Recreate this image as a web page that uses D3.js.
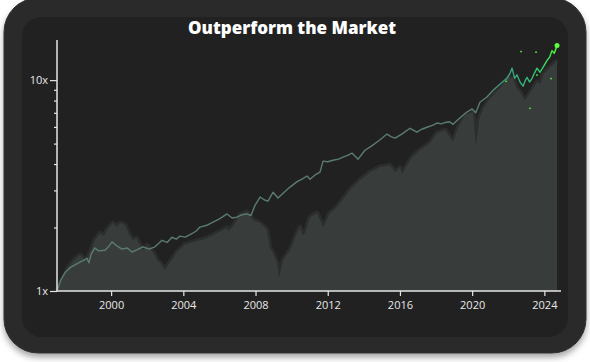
<!DOCTYPE html>
<html>
<head>
<meta charset="utf-8">
<script src="https://cdn.jsdelivr.net/npm/d3@7"></script>
<style>
  body { margin: 0; background: #fff; }
  svg { display: block; }
</style>
</head>
<body>
<svg id="chart" width="590" height="362"></svg>
<script>
// growth of 1x, dates as decimal years
const portfolioYears = [1997.0, 1997.2, 1997.44, 1997.6, 1997.72, 1998.0, 1998.27, 1998.5, 1998.66, 1998.77, 1998.9, 1999.1, 1999.3, 1999.66, 1999.85, 2000.05, 2000.3, 2000.6, 2000.9, 2001.15, 2001.45, 2001.76, 2002.1, 2002.43, 2002.82, 2003.1, 2003.37, 2003.6, 2003.81, 2004.1, 2004.37, 2004.7, 2004.92, 2005.3, 2005.64, 2006.0, 2006.42, 2006.7, 2006.97, 2007.25, 2007.53, 2007.75, 2007.97, 2008.25, 2008.5, 2008.69, 2008.97, 2009.24, 2009.6, 2009.91, 2010.3, 2010.6, 2010.85, 2011.02, 2011.3, 2011.57, 2011.74, 2012.0, 2012.29, 2012.6, 2012.84, 2013.1, 2013.34, 2013.68, 2014.06, 2014.4, 2014.73, 2015.0, 2015.28, 2015.5, 2015.73, 2016.1, 2016.56, 2016.94, 2017.2, 2017.5, 2017.8, 2018.05, 2018.3, 2018.5, 2018.75, 2018.94, 2019.3, 2019.71, 2020.0, 2020.2, 2020.43, 2020.8, 2021.16, 2021.5, 2021.93, 2022.1, 2022.21, 2022.35, 2022.48, 2022.65, 2022.82, 2022.95, 2023.04, 2023.18, 2023.32, 2023.45, 2023.59, 2023.76, 2023.95, 2024.15, 2024.3, 2024.42, 2024.55, 2024.7];
const portfolioValues = [1.0, 1.12, 1.22, 1.26, 1.29, 1.33, 1.37, 1.40, 1.43, 1.36, 1.50, 1.60, 1.55, 1.56, 1.62, 1.71, 1.64, 1.58, 1.60, 1.53, 1.57, 1.62, 1.58, 1.62, 1.74, 1.70, 1.80, 1.76, 1.82, 1.80, 1.85, 1.92, 2.01, 2.05, 2.12, 2.20, 2.32, 2.22, 2.24, 2.30, 2.32, 2.28, 2.55, 2.79, 2.70, 2.67, 2.94, 2.76, 2.95, 3.11, 3.30, 3.40, 3.51, 3.39, 3.55, 3.66, 4.13, 4.10, 4.17, 4.22, 4.31, 4.40, 4.51, 4.22, 4.65, 4.85, 5.09, 5.30, 5.55, 5.40, 5.31, 5.55, 5.91, 5.67, 5.85, 5.98, 6.10, 6.26, 6.20, 6.30, 6.35, 6.17, 6.60, 7.06, 7.30, 7.00, 7.85, 8.30, 8.95, 9.50, 10.2, 10.8, 11.4, 10.2, 10.6, 9.8, 9.36, 10.0, 10.3, 9.8, 10.2, 10.8, 11.4, 10.9, 11.6, 12.4, 12.9, 13.8, 13.4, 14.6];

const marketYears = [1997.0, 1997.2, 1997.44, 1997.6, 1997.83, 1998.27, 1998.6, 1998.72, 1998.9, 1999.1, 1999.38, 1999.6, 1999.77, 2000.1, 2000.3, 2000.49, 2000.77, 2001.0, 2001.21, 2001.4, 2001.6, 2001.75, 2001.99, 2002.32, 2002.55, 2002.71, 2002.98, 2003.26, 2003.65, 2004.09, 2004.37, 2004.92, 2005.3, 2005.64, 2006.42, 2006.5, 2006.8, 2007.14, 2007.53, 2007.86, 2008.25, 2008.63, 2008.8, 2008.97, 2009.19, 2009.3, 2009.52, 2009.91, 2010.3, 2010.46, 2010.6, 2010.74, 2011.02, 2011.4, 2011.6, 2011.74, 2012.12, 2012.4, 2012.68, 2013.23, 2013.79, 2014.34, 2014.9, 2015.45, 2015.73, 2016.0, 2016.12, 2016.67, 2017.11, 2017.66, 2018.05, 2018.22, 2018.5, 2018.94, 2019.2, 2019.6, 2020.05, 2020.21, 2020.4, 2020.6, 2020.99, 2021.54, 2021.99, 2022.26, 2022.45, 2022.65, 2022.93, 2023.2, 2023.59, 2023.8, 2023.93, 2024.31, 2024.55, 2024.7];
const marketValues = [1.0, 1.10, 1.19, 1.28, 1.37, 1.48, 1.40, 1.45, 1.56, 1.74, 1.88, 1.82, 1.95, 2.10, 2.02, 2.10, 2.06, 1.85, 1.74, 1.78, 1.65, 1.55, 1.65, 1.53, 1.40, 1.36, 1.26, 1.37, 1.53, 1.66, 1.69, 1.74, 1.78, 1.84, 1.99, 1.92, 2.05, 2.29, 2.37, 2.17, 2.10, 1.95, 1.60, 1.51, 1.36, 1.16, 1.40, 1.56, 1.88, 2.01, 1.85, 1.88, 2.24, 2.34, 2.15, 2.01, 2.34, 2.45, 2.61, 3.01, 3.36, 3.66, 3.87, 3.95, 3.66, 3.85, 3.60, 4.31, 4.65, 5.03, 5.60, 5.67, 5.79, 5.10, 5.90, 6.83, 7.06, 4.90, 6.60, 7.30, 8.20, 9.17, 10.3, 10.2, 9.2, 8.77, 8.03, 8.68, 9.78, 9.6, 10.6, 11.5, 12.0, 12.4];

// little sparkles near the end of the run
const sparkleYears = [2021.88, 2022.71, 2023.2, 2023.54, 2023.59, 2024.37];
const sparkleValues = [9.89, 13.7, 7.37, 13.6, 10.6, 10.2];

const yTicks = [1, 2, 3, 4, 5, 6, 7, 8, 9, 10];
const yLabels = { 1: "1x", 10: "10x" };
const titleText = "Outperform the Market";

const svg = d3.select("#chart");
const W = 590, H = 362;
const margin = { top: 40, right: 29, bottom: 71, left: 57 };

const toDate = function (yr) {
  const y = Math.floor(yr);
  const start = new Date(y, 0, 1), end = new Date(y + 1, 0, 1);
  return new Date(+start + (yr - y) * (end - start));
};

const defs = svg.append("defs");
const shadow = defs.append("filter").attr("id", "shadow")
  .attr("x", "-10%").attr("y", "-10%").attr("width", "120%").attr("height", "130%");
shadow.append("feDropShadow").attr("dx", 0).attr("dy", 4).attr("stdDeviation", 3)
  .attr("flood-color", "#000").attr("flood-opacity", 0.35);

// card
svg.append("rect").attr("x", 4).attr("y", -2).attr("width", 582).attr("height", 355)
  .attr("rx", 34).attr("fill", "#2a2a2a").attr("stroke", "#333").attr("filter", "url(#shadow)");
svg.append("rect").attr("x", 22).attr("y", 17).attr("width", 546).attr("height", 320)
  .attr("rx", 20).attr("fill", "#212121");

svg.append("text")
  .attr("x", 292).attr("y", 34)
  .attr("text-anchor", "middle")
  .attr("font-family", "'Open Sans', sans-serif")
  .attr("font-weight", 800)
  .attr("font-size", "17px")
  .attr("fill", "#fff")
  .text(titleText);

const x = d3.scaleTime()
  .domain([toDate(1997.0), toDate(2024.92)])
  .range([margin.left, W - margin.right]);
const y = d3.scaleLog()
  .domain([1, 15.5])
  .range([H - margin.bottom, margin.top]);

const market = marketYears.map((d, i) => ({ date: toDate(d), value: marketValues[i] }));
const portfolio = portfolioYears.map((d, i) => ({ date: toDate(d), value: portfolioValues[i] }));

const area = d3.area()
  .x(d => x(d.date))
  .y0(y(1))
  .y1(d => y(d.value));

// soft darker fringe along the top of the market area
svg.append("path")
  .datum(market)
  .attr("fill", "none")
  .attr("stroke", "#2b2e2c")
  .attr("stroke-width", 5)
  .attr("stroke-linejoin", "round")
  .attr("d", d3.line().x(d => x(d.date)).y(d => y(d.value)));

svg.append("path")
  .datum(market)
  .attr("fill", "#383c3a")
  .attr("d", area);

const grad = defs.append("linearGradient").attr("id", "lineGrad")
  .attr("gradientUnits", "userSpaceOnUse")
  .attr("x1", x(toDate(2020.8))).attr("x2", x(toDate(2024.7)))
  .attr("y1", 0).attr("y2", 0);
grad.append("stop").attr("offset", 0).attr("stop-color", "#5a7b71");
grad.append("stop").attr("offset", 0.3).attr("stop-color", "#3d9e7e");
grad.append("stop").attr("offset", 0.7).attr("stop-color", "#2fbf78");
grad.append("stop").attr("offset", 1).attr("stop-color", "#4dff3a");

const line = d3.line()
  .x(d => x(d.date))
  .y(d => y(d.value));

svg.append("path")
  .datum(portfolio)
  .attr("fill", "none")
  .attr("stroke", "url(#lineGrad)")
  .attr("stroke-width", 1.4)
  .attr("stroke-linejoin", "round")
  .attr("d", line);

svg.selectAll(".sparkle")
  .data(sparkleYears)
  .enter().append("rect")
  .attr("class", "sparkle")
  .attr("x", d => x(toDate(d)) - 1)
  .attr("y", (d, i) => y(sparkleValues[i]) - 0.5)
  .attr("width", 2).attr("height", 1.5)
  .attr("fill", "#4cd23a");

const last = portfolio[portfolio.length - 1];
svg.append("circle")
  .attr("cx", x(last.date)).attr("cy", y(last.value))
  .attr("r", 2.5).attr("fill", "#5cff3c");

// axes
const xAxis = svg.append("g")
  .attr("transform", "translate(0," + y(1) + ")")
  .attr("color", "#e6e6e6")
  .call(d3.axisBottom(x).ticks(d3.timeYear.every(4)).tickSize(5).tickPadding(5).tickFormat(d3.timeFormat("%Y")));

const yAxis = svg.append("g")
  .attr("transform", "translate(" + margin.left + ",0)")
  .attr("color", "#e6e6e6")
  .call(d3.axisLeft(y).tickValues(yTicks).tickSize(3).tickPadding(3).tickFormat(d => yLabels[d] || ""));
yAxis.selectAll(".tick line").attr("x2", d => yLabels[d] ? -7 : -3);
yAxis.selectAll("text").attr("x", -9);

svg.selectAll(".tick text")
  .attr("font-family", "'Open Sans', sans-serif")
  .attr("font-size", "11px")
  .attr("fill", "#e8e8e8");
svg.selectAll(".domain").attr("stroke-width", 1.5);
svg.selectAll(".tick line").attr("stroke-width", 1.2);
xAxis.select(".domain").attr("d", "M" + margin.left + ",0H" + (W - margin.right));
yAxis.select(".domain").attr("d", "M0," + margin.top + "V" + y(1));
</script>
</body>
</html>
